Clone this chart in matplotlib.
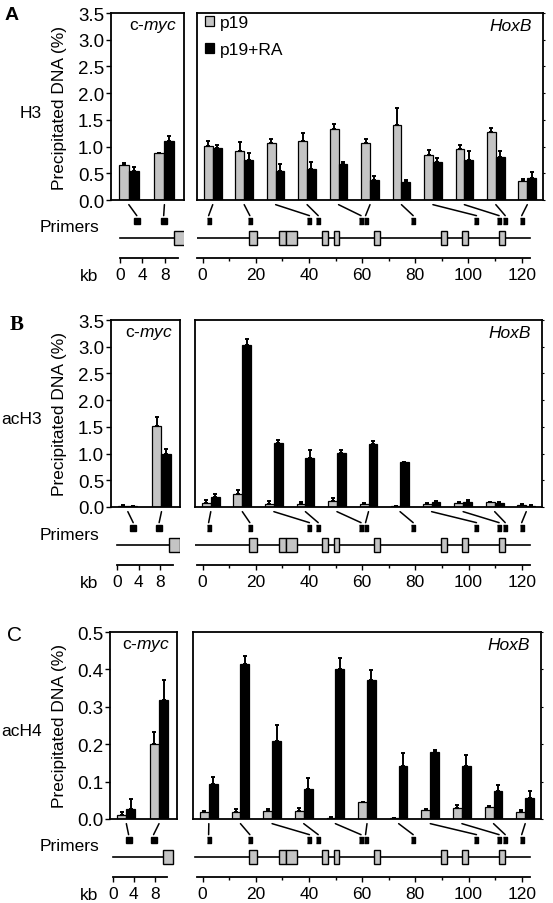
import matplotlib.pyplot as plt
import numpy as np
from matplotlib.patches import Rectangle, ConnectionPatch
from matplotlib.transforms import blended_transform_factory

plt.rcParams['font.family'] = ['Liberation Sans', 'DejaVu Sans']
plt.rcParams['mathtext.fontset'] = 'custom'
plt.rcParams['mathtext.rm'] = 'Liberation Sans'
plt.rcParams['mathtext.it'] = 'Liberation Sans:italic'
plt.rcParams['font.size'] = 12.5

# ---- datos ----
marcas = ['H3', 'acH3', 'acH4']
letras = ['A', 'B', 'C']
series = ['p19', 'p19+RA']

# posiciones en kb de los primers y de los exones
hox_primers = [2.3, 17.8, 40.2, 43.5, 59.6, 61.3, 79.2, 103.0, 111.5, 113.8, 120.0]
hox_exones = [(17.6, 20.4), (28.9, 31.4), (31.4, 35.7), (44.9, 47.2), (49.3, 51.2),
              (64.4, 66.6), (89.5, 91.8), (97.7, 99.8), (111.5, 113.8)]
hox_region = (-2.8, 123.3)
hox_kb_ticks = [0, 20, 40, 60, 80, 100, 120]
hox_kb_minor = [10, 30, 50, 70, 90, 110]
myc_primers = [3.0, 7.8]
myc_exon = (9.6, 11.6)
myc_region = (0, 9.6)
myc_kb_ticks = [0, 4, 8]

# A: H3
h3_myc_p19 = [0.66, 0.88]
h3_myc_p19_err = [0.03, 0.0]
h3_myc_ra = [0.54, 1.11]
h3_myc_ra_err = [0.08, 0.08]
h3_hox_p19 = [1.02, 0.91, 1.06, 1.11, 1.33, 1.07, 1.41, 0.85, 0.95, 1.28, 0.36]
h3_hox_p19_err = [0.09, 0.18, 0.08, 0.14, 0.09, 0.07, 0.32, 0.09, 0.08, 0.07, 0.03]
h3_hox_ra = [0.97, 0.75, 0.55, 0.58, 0.67, 0.38, 0.33, 0.72, 0.75, 0.80, 0.42]
h3_hox_ra_err = [0.06, 0.13, 0.12, 0.14, 0.05, 0.06, 0.05, 0.07, 0.17, 0.12, 0.10]

# B: acH3
ach3_myc_p19 = [0.02, 1.51]
ach3_myc_p19_err = [0.02, 0.17]
ach3_myc_ra = [0.012, 0.99]
ach3_myc_ra_err = [0.008, 0.09]
ach3_hox_p19 = [0.075, 0.25, 0.06, 0.05, 0.11, 0.055, 0.02, 0.05, 0.075, 0.085, 0.03]
ach3_hox_p19_err = [0.065, 0.06, 0.05, 0.05, 0.06, 0.015, 0.0, 0.02, 0.025, 0.015, 0.02]
ach3_hox_ra = [0.19, 3.03, 1.20, 0.92, 1.01, 1.17, 0.84, 0.10, 0.10, 0.075, 0.02]
ach3_hox_ra_err = [0.06, 0.12, 0.06, 0.14, 0.05, 0.06, 0.0, 0.02, 0.04, 0.01, 0.01]

# C: acH4
ach4_myc_p19 = [0.012, 0.200]
ach4_myc_p19_err = [0.006, 0.032]
ach4_myc_ra = [0.027, 0.317]
ach4_myc_ra_err = [0.027, 0.054]
ach4_hox_p19 = [0.020, 0.020, 0.022, 0.021, 0.004, 0.045, 0.003, 0.025, 0.029, 0.033, 0.018]
ach4_hox_p19_err = [0.002, 0.007, 0.005, 0.009, 0.001, 0.0, 0.0, 0.003, 0.009, 0.003, 0.007]
ach4_hox_ra = [0.094, 0.415, 0.209, 0.081, 0.402, 0.371, 0.142, 0.178, 0.142, 0.074, 0.057]
ach4_hox_ra_err = [0.018, 0.020, 0.042, 0.029, 0.029, 0.027, 0.035, 0.006, 0.030, 0.016, 0.019]

myc_datos = [(h3_myc_p19, h3_myc_p19_err, h3_myc_ra, h3_myc_ra_err),
             (ach3_myc_p19, ach3_myc_p19_err, ach3_myc_ra, ach3_myc_ra_err),
             (ach4_myc_p19, ach4_myc_p19_err, ach4_myc_ra, ach4_myc_ra_err)]
hox_datos = [(h3_hox_p19, h3_hox_p19_err, h3_hox_ra, h3_hox_ra_err),
             (ach3_hox_p19, ach3_hox_p19_err, ach3_hox_ra, ach3_hox_ra_err),
             (ach4_hox_p19, ach4_hox_p19_err, ach4_hox_ra, ach4_hox_ra_err)]
ymax = [3.5, 3.5, 0.5]
ypaso = [0.5, 0.5, 0.1]

# ---- geometria (pixeles) ----
W, H = 553, 904
tops = [14, 321, 633]
alto = 187
myc_x = [(111, 184), (111, 180), (110, 177)]
hox_x = [(197, 543), (195, 542), (193, 541)]
myc_kb0 = [120, 117, 113]
myc_esc = [5.6, 5.4, 5.2]
hox_kb0 = 202.5
hox_esc = 2.66

GRIS = '#c4c4c4'
bw = 0.28
ek = dict(ecolor='black', elinewidth=1.4, capsize=1.6, capthick=1.4)
primer_marca = [(-0.35, -0.5), (0.35, -0.5), (0.35, 0.5), (-0.35, 0.5)]

fig = plt.figure(figsize=(W / 100, H / 100), dpi=100)


def px_ax(x0, y0, x1, y1):
    return fig.add_axes([x0 / W, 1 - y1 / H, (x1 - x0) / W, (y1 - y0) / H])


def barras(ax, p19, e19, ra, era):
    x = np.arange(len(p19))
    z = np.zeros(len(x))
    ax.bar(x - bw / 2, p19, bw, color=GRIS, edgecolor='black', linewidth=0.9,
           yerr=[z, e19], error_kw=ek, label=series[0])
    ax.bar(x + bw / 2, ra, bw, color='black', edgecolor='black', linewidth=0.9,
           yerr=[z, era], error_kw=ek, label=series[1])
    for s in ax.spines.values():
        s.set_linewidth(1.3)
    ax.set_xticks([])


def pista(tr, ax, primers, exones, region, ms, marca):
    tr.set_ylim(0, 1)
    tr.patch.set_visible(False)
    for s in ['top', 'left', 'right']:
        tr.spines[s].set_visible(False)
    tr.spines['bottom'].set_linewidth(1.3)
    tr.set_yticks([])
    tr.tick_params(axis='x', which='both', direction='out', width=1, pad=3, labelsize=12.5)
    tr.tick_params(axis='x', which='major', length=3.5)
    tr.tick_params(axis='x', which='minor', length=2.5)
    tr.plot(region, [0.364, 0.364], color='black', lw=1.2, zorder=1)
    for a, b in exones:
        tr.add_patch(Rectangle((a, 0.364 - 0.127), b - a, 0.254, facecolor=GRIS,
                               edgecolor='black', lw=1, zorder=2))
    tr.plot(primers, [0.673] * len(primers), ls='none', marker=marca, ms=ms,
            color='black', zorder=3)
    # lineas que unen cada grupo de barras con su primer
    blend = blended_transform_factory(ax.transData, tr.transAxes)
    for j, kb in enumerate(primers):
        con = ConnectionPatch(xyA=(j, 0.97), coordsA=blend, xyB=(kb, 0.77),
                              coordsB=tr.transData, color='black', lw=1.1)
        tr.add_artist(con)


for i in range(3):
    top = tops[i]
    bot = top + alto
    mx0, mx1 = myc_x[i]
    hx0, hx1 = hox_x[i]
    ax_m = px_ax(mx0, top, mx1, bot)
    ax_h = px_ax(hx0, top, hx1, bot)
    tr_m = px_ax(mx0, bot + 3, mx1, bot + 58)
    tr_h = px_ax(hx0, bot + 3, hx1, bot + 58)

    barras(ax_m, *myc_datos[i])
    barras(ax_h, *hox_datos[i])
    ax_m.set_xlim(-0.5, 1.55)
    ax_h.set_xlim(-0.5, 10.5)
    yt = np.arange(0, ymax[i] + 1e-9, ypaso[i])
    for ax in (ax_m, ax_h):
        ax.set_ylim(0, ymax[i])
        ax.set_yticks(yt)
    # marcas diminutas en el borde derecho de HoxB
    ax_h.tick_params(axis='y', left=False, labelleft=False, right=True,
                     direction='out', length=1.5, width=0.8)
    ax_m.yaxis.set_major_formatter('{x:.1f}')
    ax_m.tick_params(axis='y', direction='out', length=3.5, width=1, pad=1.5, labelsize=13.5)
    ax_m.set_ylabel('Precipitated DNA (%)', fontsize=12.5)
    ax_m.yaxis.set_label_coords((67 - mx0) / (mx1 - mx0), 0.5)

    ax_m.text(1 - 7 / (mx1 - mx0), 1 - 13 / alto, 'c-$\\mathit{myc}$', transform=ax_m.transAxes,
              ha='right', va='center', fontsize=12.5)
    ax_h.text(1 - 11 / (hx1 - hx0), 1 - 12 / alto, 'HoxB', transform=ax_h.transAxes,
              ha='right', va='center', fontsize=12.5, style='italic')

    # pistas genomicas
    tr_m.set_xlim((mx0 - myc_kb0[i]) / myc_esc[i], (mx1 - myc_kb0[i]) / myc_esc[i])
    tr_h.set_xlim((hx0 - hox_kb0) / hox_esc, (hx1 - hox_kb0) / hox_esc)
    pista(tr_m, ax_m, myc_primers, [myc_exon], myc_region, 4, 's')
    pista(tr_h, ax_h, hox_primers, hox_exones, hox_region, 4.5, primer_marca)
    tr_m.spines['bottom'].set_bounds(0, 10.3)
    tr_m.set_xticks(myc_kb_ticks)
    tr_h.spines['bottom'].set_bounds(hox_region[0] + 0.8, hox_region[1])
    tr_h.set_xticks(hox_kb_ticks)
    tr_h.set_xticks(hox_kb_minor, minor=True)

    if i == 0:
        ax_h.legend(loc='upper left', bbox_to_anchor=(0.023, 0.99), frameon=False,
                    borderpad=0, borderaxespad=0, handlelength=0.5, handleheight=0.5,
                    handletextpad=0.35, labelspacing=0.72, fontsize=12.5)

    # textos
    fig.text(42 / W, 1 - (top + 99) / H, marcas[i], ha='right', va='center', fontsize=12.5)
    fig.text(99 / W, 1 - (bot + 27) / H, 'Primers', ha='right', va='center', fontsize=12.5)
    fig.text(98 / W, 1 - (bot + 76) / H, 'kb', ha='right', va='center', fontsize=12.5)

fig.text(12 / W, 1 - 16 / H, 'A', ha='center', va='center', fontsize=14, weight='bold')
fig.text(17 / W, 1 - 325 / H, 'B', ha='center', va='center', fontsize=15, weight='bold',
         family='Liberation Serif')
fig.text(15 / W, 1 - 636 / H, 'C', ha='center', va='center', fontsize=15)

plt.savefig('out.png', dpi=100)
